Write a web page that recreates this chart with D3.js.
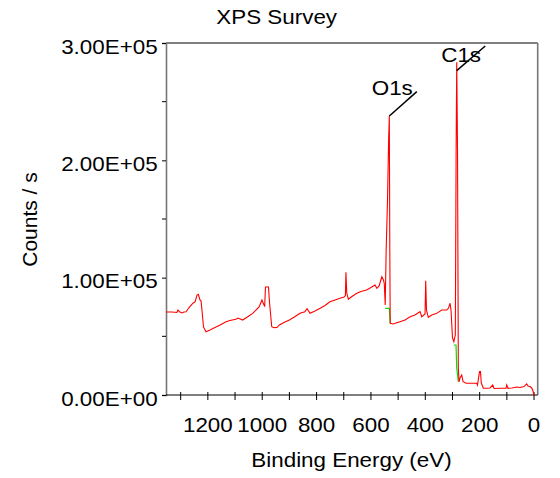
<!DOCTYPE html>
<html>
<head>
<meta charset="utf-8">
<script src="https://cdn.jsdelivr.net/npm/d3@7"></script>
<style>
  body { margin: 0; background: #fff; }
  text { font-family: "Liberation Sans", Arial, sans-serif; fill: #000; }
</style>
</head>
<body>
<script>
let width = 560;
let height = 478;

// survey spectrum (binding energy in eV, counts / s)
let energy = [1354, 1332, 1314, 1310, 1303, 1295, 1288, 1280, 1273, 1266,
  1255, 1247, 1240, 1235, 1229, 1225, 1220, 1216, 1207, 1192,
  1174, 1155, 1133, 1119, 1097, 1089, 1072, 1052, 1035, 1023,
  1011, 1001, 995, 991, 988, 977, 973, 965, 957, 946,
  937, 920, 900, 879, 861, 843, 835, 824, 806, 787,
  769, 751, 732, 714, 699, 694, 692, 689, 683, 670,
  652, 637, 616, 600, 585, 578, 570, 560, 554, 551,
  547.5, 544, 539, 535, 532.4, 530.6, 529.1, 517.7, 507.8, 493,
  474.7, 456, 438, 419.5, 413, 401, 398.5, 395.6, 389, 376,
  358, 339.6, 321, 314.6, 309, 305.4, 300, 295, 289.6, 286.6,
  284.4, 281.5, 278.5, 276, 272.3, 266, 261, 250, 235.5, 211,
  208, 200.5, 197, 194, 186.5, 173, 162, 152, 147, 125,
  103, 100.5, 95.7, 81, 63.7, 51.5, 36.8, 26.9, 22, 14.7,
  8.5, 3.7, 0, -3.7];
let counts = [70700, 70700, 70300, 72400, 70700, 69900, 70700, 71000, 73300, 75300,
  78200, 79300, 85200, 85800, 81000, 80100, 68200, 58000, 53900, 55400,
  57500, 59700, 62500, 63500, 64500, 65600, 63900, 66900, 69600, 72400,
  75300, 81000, 77600, 75300, 92000, 92000, 78400, 58200, 57400, 57500,
  59700, 61800, 63900, 66900, 69600, 71000, 73600, 69600, 71600, 73900,
  76300, 79500, 81000, 82400, 83500, 84800, 104600, 86900, 81600, 83900,
  86700, 88200, 89500, 91600, 93700, 90900, 92900, 100800, 98000, 95200,
  76700, 123600, 166200, 217300, 237800, 123600, 61100, 60500, 61400, 62500,
  63900, 66700, 68200, 71000, 66700, 69000, 97400, 72400, 66200, 68200,
  69600, 72400, 72400, 74100, 78200, 72400, 48600, 45400, 51100, 208800,
  283600, 208800, 23000, 11300, 14500, 17000, 11300, 10000, 10000, 10000,
  8500, 19900, 19900, 10200, 5700, 5700, 6000, 8500, 5500, 5700,
  5700, 8500, 5700, 6000, 6800, 6400, 7200, 9400, 7700, 7200,
  6000, 3400, 0, 0];

// background segments under the O1s and C1s peaks
let bgEnergy = [[547.5, 532.4, 529.1], [295, 287, 284.4, 278.5]];
let bgCounts = [[73900, 73900, 61100], [42600, 42600, 23000, 11300]];

// peak labels
let peakNames = ["O1s", "C1s"];
let peakEnergy = [532.4, 284.4];
let peakCounts = [237800, 276400];

let yTicks = [0, 100000, 200000, 300000];
let yMinor = [50000, 150000, 250000];
let xTicks = d3.range(0, 1301, 100);
let xLabels = [0, 200, 400, 600, 800, 1000, 1200];

let plotLeft = 166, plotRight = 537.7, plotTop = 43, plotBottom = 395;
let stretch = "scale(1.12,1)";

let xScale = d3.scaleLinear()
    .domain([1354, -13.5])
    .range([plotLeft, plotRight]);

let yScale = d3.scaleLinear()
    .domain([0, 300000])
    .range([plotBottom, plotTop]);

let svg = d3.select("body")
    .append("svg")
    .attr("width", width)
    .attr("height", height);

//frame

svg.append("line")
    .attr("x1", plotLeft).attr("x2", plotRight)
    .attr("y1", plotTop).attr("y2", plotTop)
    .attr("stroke", "#000").attr("stroke-width", 1);
svg.append("line")
    .attr("x1", plotRight).attr("x2", plotRight)
    .attr("y1", plotTop).attr("y2", plotBottom)
    .attr("stroke", "#777").attr("stroke-width", 1.6);

//y axis

let fmt = function(d) {
    let e = d === 0 ? 0 : Math.floor(Math.log10(d));
    let m = d / Math.pow(10, e);
    return m.toFixed(2) + "E+" + String(e).padStart(2, "0");
};

let yAxis = svg.append("g")
    .attr("transform", "translate(" + plotLeft + ",0)")
    .call(d3.axisLeft(yScale).tickValues(yTicks).tickSize(4).tickFormat(fmt));
yAxis.select(".domain").attr("stroke", "#777").attr("stroke-width", 1.6);
yAxis.selectAll("text")
    .attr("x", -7.5)
    .attr("dy", "0.5em")
    .attr("font-size", "20px")
    .attr("font-family", "Liberation Sans, Arial, sans-serif")
    .attr("transform", stretch);

svg.append("g")
    .attr("transform", "translate(" + plotLeft + ",0)")
    .selectAll("line")
    .data(yMinor)
    .enter()
    .append("line")
    .attr("x1", -4).attr("x2", 0)
    .attr("y1", function(d) { return yScale(d); })
    .attr("y2", function(d) { return yScale(d); })
    .attr("stroke", "#000");

//x axis

svg.append("line")
    .attr("x1", plotLeft).attr("x2", plotRight)
    .attr("y1", plotBottom).attr("y2", plotBottom)
    .attr("stroke", "#000").attr("stroke-width", 1.2);

svg.append("g")
    .selectAll("line")
    .data(xTicks)
    .enter()
    .append("line")
    .attr("x1", function(d) { return xScale(d); })
    .attr("x2", function(d) { return xScale(d); })
    .attr("y1", plotBottom - 3)
    .attr("y2", plotBottom + 5)
    .attr("stroke", "#000");

svg.append("g")
    .selectAll("text")
    .data(xLabels)
    .enter()
    .append("text")
    .text(function(d) { return d; })
    .attr("transform", function(d) {
        return "translate(" + xScale(d) + "," + (plotBottom + 36.7) + ") " + stretch;
    })
    .attr("text-anchor", "middle")
    .attr("font-size", "20px");

//titles

svg.append("text")
    .text("XPS Survey")
    .attr("transform", "translate(276.7,24.3) " + stretch)
    .attr("text-anchor", "middle")
    .attr("font-size", "20px");

svg.append("text")
    .text("Binding Energy (eV)")
    .attr("transform", "translate(351.5,467) " + stretch)
    .attr("text-anchor", "middle")
    .attr("font-size", "20px");

svg.append("text")
    .text("Counts / s")
    .attr("transform", "translate(37,219.5) rotate(-90) scale(1.05,1)")
    .attr("text-anchor", "middle")
    .attr("font-size", "20px");

//spectrum

let line = d3.line()
    .x(function(d) { return xScale(d[0]); })
    .y(function(d) { return yScale(d[1]); });

svg.selectAll("path.bg")
    .data(bgEnergy.map(function(e, k) { return d3.zip(e, bgCounts[k]); }))
    .enter()
    .append("path")
    .attr("class", "bg")
    .attr("d", line)
    .attr("fill", "none")
    .attr("stroke", "#00e000")
    .attr("stroke-width", 1.2);

svg.append("path")
    .datum(d3.zip(energy, counts))
    .attr("d", line)
    .attr("fill", "none")
    .attr("stroke", "#ff0000")
    .attr("stroke-width", 1.1);

//peak labels

let leadDx = [27.5, 28.5];
let leadDy = [-24.3, -24.7];
let textDx = [-17.6, -15.5];
let textDy = [-21, -8.2];

peakNames.forEach(function(name, i) {
    let px = xScale(peakEnergy[i]);
    let py = yScale(peakCounts[i]);
    svg.append("text")
        .text(name)
        .attr("transform", "translate(" + (px + textDx[i]) + "," + (py + textDy[i]) + ") " + stretch)
        .attr("font-size", "20px");
    svg.append("line")
        .attr("x1", px).attr("y1", py)
        .attr("x2", px + leadDx[i]).attr("y2", py + leadDy[i])
        .attr("stroke", "#000")
        .attr("stroke-width", 1.5);
});
</script>
</body>
</html>
